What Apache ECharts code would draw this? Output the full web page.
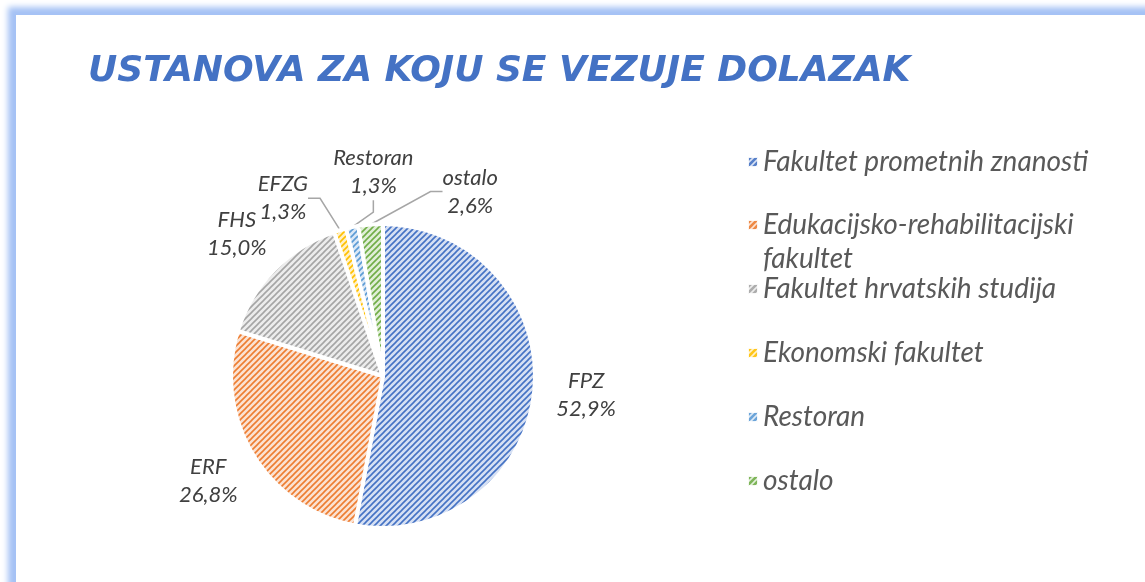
<!DOCTYPE html>
<html>
<head>
<meta charset="utf-8">
<title>Ustanova za koju se vezuje dolazak</title>
<script src="https://cdn.jsdelivr.net/npm/echarts@6/dist/echarts.min.js"></script>
<style>
    body {
        margin: 0;
        background: #fff;
        overflow: hidden;
    }
    .frame {
        position: absolute;
        left: 16px;
        top: 15px;
        width: 1400px;
        height: 900px;
        background: #fff;
        box-shadow: 0 0 6px 8px #a5c2f5;
    }
    .chart-box {
        position: absolute;
        left: 0;
        top: 0;
        width: 1145px;
        height: 582px;
    }
</style>
</head>
<body>
<div class="frame"></div>
<div class="chart-box"></div>
<script>
    // podaci
    let categories = ['Fakultet prometnih znanosti', 'Edukacijsko-rehabilitacijski fakultet', 'Fakultet hrvatskih studija', 'Ekonomski fakultet', 'Restoran', 'ostalo']
    let shortNames = ['FPZ', 'ERF', 'FHS', 'EFZG', 'Restoran', 'ostalo']
    let shares = [52.9, 26.8, 15.0, 1.3, 1.3, 2.6]

    // boje (linija srafure, podloga)
    let lineColors = ['#4472c4', '#ed7d31', '#a5a5a5', '#ffc000', '#5b9bd5', '#70ad47']
    let fillColors = ['#d6e0f3', '#fbe2d2', '#ececec', '#fff0c6', '#dbe8f6', '#e0eed7']

    // pomak naljepnica malih isjecaka (stupnjevi)
    let labelTurn = [0, 0, 0, -13, 9, 30]

    const CX = 383, CY = 376, R = 152

    function hatch(fg, bg) {
        let c = document.createElement('canvas')
        c.width = 6
        c.height = 6
        let ctx = c.getContext('2d')
        ctx.fillStyle = bg
        ctx.fillRect(0, 0, 6, 6)
        ctx.strokeStyle = fg
        ctx.lineWidth = 1.6
        ctx.beginPath()
        ctx.moveTo(-1, 7); ctx.lineTo(7, -1)
        ctx.moveTo(-1, 1); ctx.lineTo(1, -1)
        ctx.moveTo(5, 7); ctx.lineTo(7, 5)
        ctx.stroke()
        return { image: c, repeat: 'repeat' }
    }

    let total = shares.reduce((a, b) => a + b, 0)
    let acc = 0
    let midAngles = shares.map(v => {
        let m = (acc + v / 2) / total * 360
        acc += v
        return m
    })

    let pieData = categories.map((name, i) => ({
        name: name,
        value: shares[i],
        itemStyle: { color: hatch(lineColors[i], fillColors[i]) },
        labelLine: { show: shares[i] < 5 }
    }))

    // ikone legende su sitne, pa gusca srafura
    let legendItems = categories.map((name, i) => ({
        name: name,
        itemStyle: { color: hatch(fillColors[i], lineColors[i]), opacity: 0.9 }
    }))

    let legendText = {
        fontFamily: 'Lato',
        fontStyle: 'italic',
        fontSize: 28,
        color: '#595959',
        lineHeight: 34,
        width: 375,
        overflow: 'break'
    }

    function legendBlock(items, top, opts) {
        return Object.assign({
            data: items,
            orient: 'vertical',
            left: 742,
            top: top,
            itemWidth: 10,
            itemHeight: 10,
            itemGap: 30,
            icon: 'rect',
            textStyle: legendText
        }, opts)
    }

    let chart = document.getElementsByClassName('chart-box')[0]
    let mychart = echarts.init(chart)
    let option = {
        animation: false,
        title: {
            text: 'USTANOVA ZA KOJU SE VEZUJE DOLAZAK',
            left: 83,
            top: 49,
            textStyle: {
                fontFamily: 'DejaVu Sans',
                fontStyle: 'italic',
                fontWeight: 'bold',
                fontSize: 36,
                color: '#4472c4'
            }
        },
        // tri bloka legende: stavka s dva retka ima ikonu uz prvi redak
        legend: [
            legendBlock(legendItems.slice(0, 1), 140),
            legendBlock(legendItems.slice(1, 2), 203, {
                itemHeight: 44,
                icon: 'path://M0,0L10,0L10,10L0,10Z M0,44L0,44'
            }),
            legendBlock(legendItems.slice(2), 267)
        ],
        series: [
            {
                type: 'pie',
                center: [CX, CY],
                radius: R,
                startAngle: 90,
                avoidLabelOverlap: false,
                data: pieData,
                itemStyle: {
                    borderColor: '#fff',
                    borderWidth: 4
                },
                label: {
                    position: 'outside',
                    fontFamily: 'Lato',
                    fontStyle: 'italic',
                    fontSize: 22,
                    lineHeight: 28,
                    color: '#404040',
                    formatter: function (p) {
                        return shortNames[p.dataIndex] + '\n' + p.value.toFixed(1).replace('.', ',') + '%'
                    }
                },
                labelLine: {
                    show: false,
                    length: 10,
                    length2: 12,
                    lineStyle: { color: '#a6a6a6', width: 1.5 }
                },
                labelLayout: function (params) {
                    let i = params.dataIndex
                    let a = (midAngles[i] + labelTurn[i]) * Math.PI / 180
                    let d = R + 52
                    return {
                        x: CX + Math.sin(a) * d,
                        y: CY - Math.cos(a) * d,
                        align: 'center',
                        verticalAlign: 'middle'
                    }
                }
            }
        ]
    }

    mychart.setOption(option)
</script>
</body>
</html>
